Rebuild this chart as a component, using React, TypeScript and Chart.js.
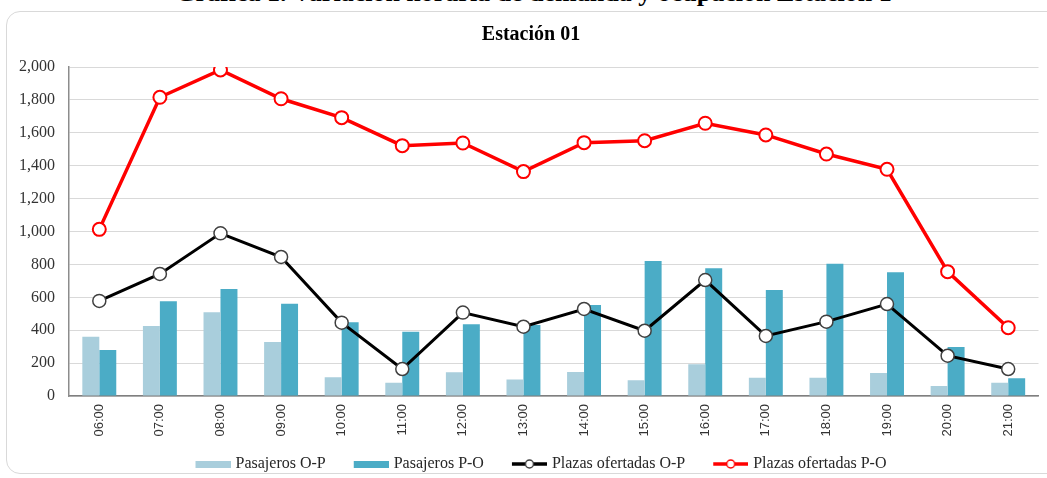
import React, { useEffect, useRef } from "react";
import { Chart, registerables } from "chart.js";

Chart.register(...registerables);

const categories = [
  "06:00", "07:00", "08:00", "09:00", "10:00", "11:00", "12:00", "13:00",
  "14:00", "15:00", "16:00", "17:00", "18:00", "19:00", "20:00", "21:00",
];
const pasajerosOP = [360, 425, 509, 328, 114, 81, 144, 101, 146, 95, 193, 111, 111, 140, 61, 81];
const pasajerosPO = [280, 576, 650, 561, 448, 391, 436, 432, 553, 821, 776, 644, 804, 752, 298, 108];
const plazasOP = [578, 742, 989, 845, 446, 164, 507, 421, 529, 397, 705, 365, 452, 559, 245, 164];
const plazasPO = [1013, 1816, 1982, 1807, 1692, 1522, 1538, 1364, 1540, 1552, 1658, 1587, 1471, 1378, 756, 415];
const seriesNames = ["Pasajeros O-P", "Pasajeros P-O", "Plazas ofertadas O-P", "Plazas ofertadas P-O"];
const chartTitle = "Estación 01";
const pageTitle = "Gráfica 1. Variación horaria de demanda y ocupación Estación 1";

const SERIF = "'Liberation Serif', 'Times New Roman', serif";
const SANS = "'Liberation Sans', Arial, sans-serif";
const LIGHT = "#a9cedc";
const DARK = "#4bacc6";
const RED = "#ff0000";
const BLACK = "#000000";

// legend icon geometry: box width B, image width W (overhangs box by 3px on the right)
const BOX_W = 52;
const IMG_W = 58;
const ICON_LEN = 35;

function barIcon(color: string) {
  const c = document.createElement("canvas");
  c.width = IMG_W;
  c.height = 7;
  const ctx = c.getContext("2d")!;
  ctx.fillStyle = color;
  ctx.fillRect(IMG_W - ICON_LEN, 0, ICON_LEN, 7);
  return c;
}

function lineIcon(color: string, marker: string) {
  const c = document.createElement("canvas");
  c.width = IMG_W;
  c.height = 12;
  const ctx = c.getContext("2d")!;
  const x0 = IMG_W - ICON_LEN;
  const mid = x0 + ICON_LEN / 2;
  ctx.strokeStyle = color;
  ctx.lineWidth = 3.5;
  ctx.beginPath();
  ctx.moveTo(x0, 6);
  ctx.lineTo(IMG_W, 6);
  ctx.stroke();
  ctx.beginPath();
  ctx.arc(mid, 6, 4, 0, Math.PI * 2);
  ctx.fillStyle = "#ffffff";
  ctx.fill();
  ctx.lineWidth = 1.5;
  ctx.strokeStyle = marker;
  ctx.stroke();
  return c;
}

function fmt(v: number) {
  return String(v).replace(/\B(?=(\d{3})+(?!\d))/g, ",");
}

export default function App() {
  const ref = useRef<HTMLCanvasElement | null>(null);

  useEffect(() => {
    if (!ref.current) return;
    const icons = [barIcon(LIGHT), barIcon(DARK), lineIcon(BLACK, "#404040"), lineIcon(RED, RED)];
    const chart = new Chart(ref.current, {
      type: "bar",
      data: {
        labels: categories,
        datasets: [
          {
            type: "bar",
            label: seriesNames[0],
            data: pasajerosOP,
            backgroundColor: LIGHT,
            barPercentage: 1,
            categoryPercentage: 0.56,
            order: 2,
          },
          {
            type: "bar",
            label: seriesNames[1],
            data: pasajerosPO,
            backgroundColor: DARK,
            barPercentage: 1,
            categoryPercentage: 0.56,
            order: 2,
          },
          {
            type: "line",
            label: seriesNames[2],
            data: plazasOP,
            borderColor: BLACK,
            borderWidth: 3,
            pointRadius: 6.5,
            pointBorderWidth: 1.5,
            pointBackgroundColor: "#ffffff",
            pointBorderColor: "#404040",
            tension: 0,
            order: 1,
          },
          {
            type: "line",
            label: seriesNames[3],
            data: plazasPO,
            borderColor: RED,
            borderWidth: 3.5,
            pointRadius: 6.5,
            pointBorderWidth: 2,
            pointBackgroundColor: "#ffffff",
            pointBorderColor: RED,
            tension: 0,
            order: 1,
          },
        ],
      },
      options: {
        animation: false,
        responsive: true,
        maintainAspectRatio: false,
        layout: { padding: { left: 17, right: 2, top: 0, bottom: -4 } },
        plugins: {
          tooltip: { enabled: false },
          title: {
            display: true,
            text: chartTitle,
            color: "#000",
            font: { family: SERIF, size: 20, weight: "bold" },
            padding: { top: 23, bottom: 20 },
          },
          legend: {
            position: "bottom",
            labels: {
              usePointStyle: true,
              pointStyleWidth: BOX_W,
              padding: 8,
              color: "#262626",
              font: { family: SERIF, size: 16 },
              generateLabels: (c: any) => {
                const items = (Chart.defaults.plugins.legend.labels as any).generateLabels(c);
                items.sort((a: any, b: any) => a.datasetIndex - b.datasetIndex);
                items.forEach((it: any) => {
                  it.pointStyle = icons[it.datasetIndex];
                  it.lineWidth = 0;
                  it.text = seriesNames[it.datasetIndex];
                });
                return items;
              },
            },
          },
        },
        scales: {
          x: {
            grid: { display: false, drawTicks: false },
            border: { display: true, color: "#7f7f7f", width: 1.5 },
            ticks: {
              minRotation: 90,
              maxRotation: 90,
              padding: 8,
              color: "#333",
              font: { family: SANS, size: 13 },
            },
            afterFit: (s: any) => {
              s.height = 52;
            },
          },
          y: {
            min: 0,
            max: 2000,
            grid: { color: "#d9d9d9", lineWidth: 1, drawTicks: false },
            border: { display: true, color: "#8c8c8c", width: 1.5 },
            ticks: {
              stepSize: 200,
              padding: 14,
              color: "#333",
              font: { family: SERIF, size: 16 },
              callback: (v: any) => fmt(Number(v)),
            },
            afterFit: (s: any) => {
              s.width = 52;
            },
          },
        },
      },
    } as any);
    return () => chart.destroy();
  }, []);

  return (
    <div
      style={{
        position: "fixed",
        left: 0,
        top: 0,
        width: 1047,
        height: 478,
        background: "#ffffff",
        overflow: "hidden",
      }}
    >
      <div
        style={{
          position: "absolute",
          left: 10,
          top: -20,
          width: 1047,
          textAlign: "center",
          fontFamily: SERIF,
          fontWeight: "bold",
          fontSize: 26,
          lineHeight: "26px",
          whiteSpace: "nowrap",
          color: "#000",
        }}
      >
        {pageTitle}
      </div>
      <div
        style={{
          position: "absolute",
          left: 6,
          top: 11,
          width: 1100,
          height: 463,
          border: "1px solid #d9d9d9",
          borderRadius: 14,
          boxSizing: "border-box",
        }}
      />
      <div style={{ position: "absolute", left: 0, top: 0, width: 1047, height: 478 }}>
        <canvas ref={ref} />
      </div>
    </div>
  );
}
